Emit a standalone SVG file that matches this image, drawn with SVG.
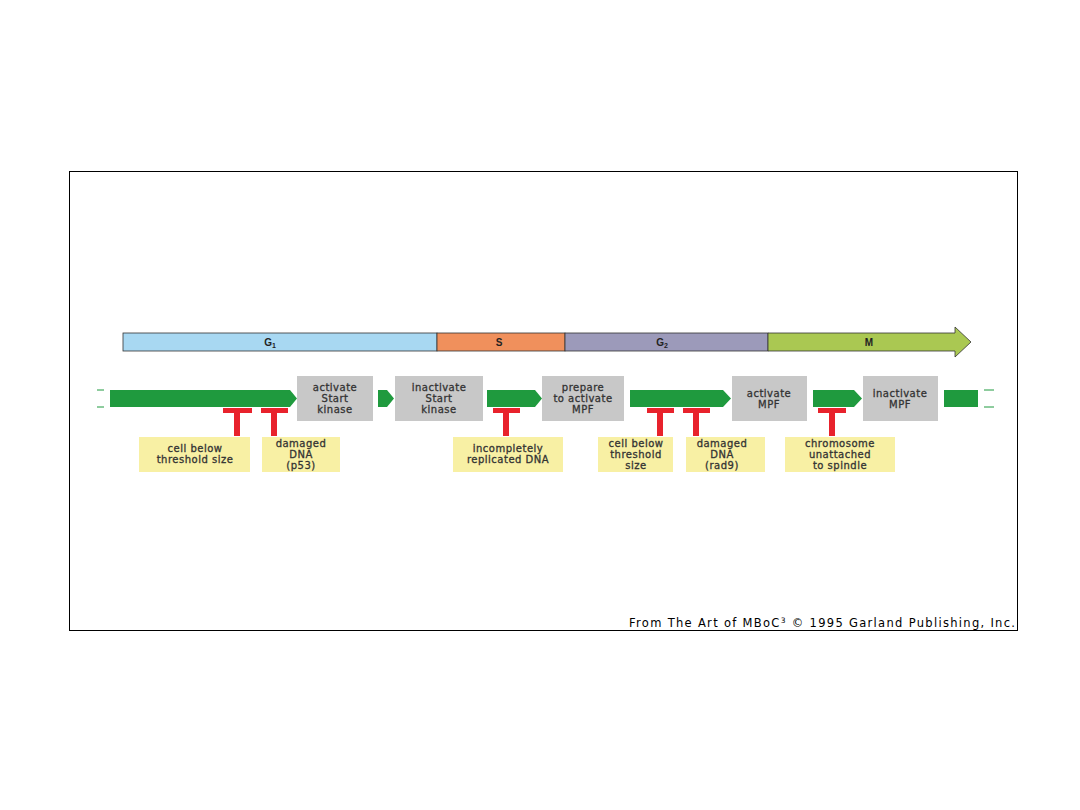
<svg xmlns="http://www.w3.org/2000/svg" width="1080" height="810" viewBox="0 0 1080 810">
<style>
.t{font-family:"DejaVu Sans","Liberation Sans",sans-serif;font-size:10px;letter-spacing:0.5px;fill:#333;stroke:#333;stroke-width:0.3;text-anchor:middle}
.ph{font-family:"Liberation Sans",Arial,sans-serif;font-size:10px;font-weight:bold;fill:#222;text-anchor:middle}
.gb{fill:#c8c8c8}
.yb{fill:#f8f0a4}
.gr{fill:#1f9a3e}
.red{fill:#e8222c}
.dash{stroke:#1f9a3e;stroke-width:1}
</style>
<rect width="1080" height="810" fill="#fff"/>
<rect x="69.5" y="171.5" width="948" height="459" fill="#fff" stroke="#000" stroke-width="1"/>
<g id="phases">
<rect x="123" y="333" width="314" height="18" fill="#a8d8f2" stroke="#333" stroke-width="0.8"/>
<rect x="437" y="333" width="128" height="18" fill="#f0905c" stroke="#333" stroke-width="0.8"/>
<rect x="565" y="333" width="203" height="18" fill="#9c9aba" stroke="#333" stroke-width="0.8"/>
<path d="M768 333 H955 V327 L971 342 L955 357 V351 H768 Z" fill="#aac852" stroke="#333" stroke-width="0.8"/>
<text class="ph" x="270" y="346">G<tspan font-size="7" dy="2">1</tspan></text>
<text class="ph" x="499" y="346">S</text>
<text class="ph" x="662" y="346">G<tspan font-size="7" dy="2">2</tspan></text>
<text class="ph" x="869" y="346">M</text>
</g>
<g id="connectors">
<line class="dash" x1="97" y1="390" x2="104" y2="390"/>
<line class="dash" x1="97" y1="407" x2="104" y2="407"/>
<line class="dash" x1="984" y1="390" x2="994" y2="390"/>
<line class="dash" x1="984" y1="407" x2="994" y2="407"/>
<path class="gr" d="M110 390 H290 L297 398.5 L290 407 H110 Z"/>
<path class="gr" d="M378 390 H387 L394 398.5 L387 407 H378 Z"/>
<path class="gr" d="M487 390 H535 L542 398.5 L535 407 H487 Z"/>
<path class="gr" d="M630 390 H723 L731 398.5 L723 407 H630 Z"/>
<path class="gr" d="M813 390 H854 L862 398.5 L854 407 H813 Z"/>
<rect class="gr" x="944" y="390" width="34" height="17"/>
<g id="inhibitors">
<rect class="red" x="223" y="408" width="29" height="5"/><rect class="red" x="234" y="408" width="6" height="28"/>
<rect class="red" x="261" y="408" width="27" height="5"/><rect class="red" x="271" y="408" width="6" height="28"/>
<rect class="red" x="493" y="408" width="27" height="5"/><rect class="red" x="503" y="408" width="6" height="28"/>
<rect class="red" x="647" y="408" width="27" height="5"/><rect class="red" x="657" y="408" width="6" height="28"/>
<rect class="red" x="683" y="408" width="27" height="5"/><rect class="red" x="693" y="408" width="6" height="28"/>
<rect class="red" x="818" y="408" width="28" height="5"/><rect class="red" x="829" y="408" width="6" height="28"/>
</g>
</g>
<g id="n_activate_start"><rect class="gb" x="297" y="376" width="76" height="45"/>
<text class="t" x="335" y="391">activate</text><text class="t" x="335" y="402">Start</text><text class="t" x="335" y="413">kinase</text></g>
<g id="n_inactivate_start"><rect class="gb" x="395" y="376" width="88" height="45"/>
<text class="t" x="439" y="391">inactivate</text><text class="t" x="439" y="402">Start</text><text class="t" x="439" y="413">kinase</text></g>
<g id="n_prepare_mpf"><rect class="gb" x="542" y="376" width="82" height="45"/>
<text class="t" x="583" y="391">prepare</text><text class="t" x="583" y="402">to activate</text><text class="t" x="583" y="413">MPF</text></g>
<g id="n_activate_mpf"><rect class="gb" x="732" y="376" width="75" height="45"/>
<text class="t" x="769" y="397">activate</text><text class="t" x="769" y="408">MPF</text></g>
<g id="n_inactivate_mpf"><rect class="gb" x="863" y="376" width="75" height="45"/>
<text class="t" x="900" y="397">inactivate</text><text class="t" x="900" y="408">MPF</text></g>
<g id="y_cell_below1"><rect class="yb" x="139" y="437" width="111" height="35"/>
<text class="t" x="195" y="452">cell below</text><text class="t" x="195" y="463">threshold size</text></g>
<g id="y_damaged_p53"><rect class="yb" x="262" y="437" width="78" height="35"/>
<text class="t" x="301" y="447">damaged</text><text class="t" x="301" y="458">DNA</text><text class="t" x="301" y="469">(p53)</text></g>
<g id="y_incomplete"><rect class="yb" x="453" y="437" width="110" height="35"/>
<text class="t" x="508" y="452">incompletely</text><text class="t" x="508" y="463">replicated DNA</text></g>
<g id="y_cell_below2"><rect class="yb" x="598" y="437" width="75" height="35"/>
<text class="t" x="636" y="447">cell below</text><text class="t" x="636" y="458">threshold</text><text class="t" x="636" y="469">size</text></g>
<g id="y_damaged_rad9"><rect class="yb" x="686" y="437" width="79" height="35"/>
<text class="t" x="722" y="447">damaged</text><text class="t" x="722" y="458">DNA</text><text class="t" x="722" y="469">(rad9)</text></g>
<g id="y_chromosome"><rect class="yb" x="785" y="437" width="110" height="35"/>
<text class="t" x="840" y="447">chromosome</text><text class="t" x="840" y="458">unattached</text><text class="t" x="840" y="469">to spindle</text></g>
<text x="629" y="627" font-family="'DejaVu Sans',sans-serif" font-size="11.5" fill="#000" textLength="386" lengthAdjust="spacing">From The Art of MBoC<tspan font-size="7.5" dy="-4">3</tspan><tspan dy="4"> © 1995 Garland Publishing, Inc.</tspan></text>
</svg>
